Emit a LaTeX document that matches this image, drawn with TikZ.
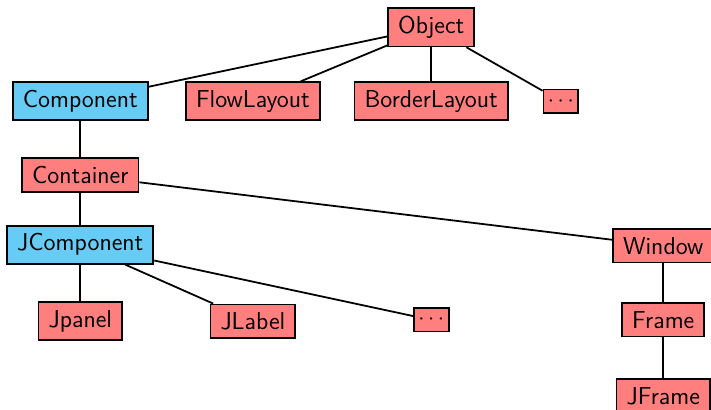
\documentclass[tikz,border=0pt]{standalone}
\usepackage{tikz}

\definecolor{LightRed}{RGB}{255,127,127}
\definecolor{LightBlue}{RGB}{102,204,245}

\tikzset{
  cls/.style={draw=black, thick, fill=LightRed, inner xsep=4.5pt, inner ysep=3.6pt,
              font=\fontsize{11}{13}\selectfont\sffamily},
  iface/.style={cls, fill=LightBlue},
  more/.style={draw=black, thick, fill=LightRed, inner xsep=2pt, inner ysep=3pt},
  link/.style={thick, black}
}

\begin{document}
\begin{tikzpicture}

\useasboundingbox (0,0) rectangle (11.245,-6.469);

% Classes
\node[cls]   (object)    at (6.82,-0.43) {Object};
\node[iface] (component) at (1.27,-1.60) {Component};
\node[cls]   (flow)      at (4.00,-1.60) {FlowLayout};
\node[cls]   (border)    at (6.82,-1.60) {BorderLayout};
\node[more]  (moreA)     at (8.87,-1.60) {$\cdots$};
\node[cls]   (container) at (1.27,-2.77) {Container};
\node[iface] (jcomp)     at (1.27,-3.87) {JComponent};
\node[cls]   (window)    at (10.49,-3.89) {Window};
\node[cls]   (jpanel)    at (1.27,-5.08) {Jpanel};
\node[cls]   (jlabel)    at (4.00,-5.08) {JLabel};
\node[more]  (moreB)     at (6.82,-5.06) {$\cdots$};
\node[cls]   (frame)     at (10.49,-5.06) {Frame};
\node[cls]   (jframe)    at (10.49,-6.26) {JFrame};

% Inheritance lines
\foreach \sub in {component,flow,border,moreA}
{
     \draw[link] (object) -- (\sub);
}
\draw[link] (component) -- (container);
\draw[link] (container) -- (jcomp);
\draw[link] (container) -- (window);
\foreach \sub in {jpanel,jlabel,moreB}
{
     \draw[link] (jcomp) -- (\sub);
}
\draw[link] (window) -- (frame);
\draw[link] (frame) -- (jframe);

\end{tikzpicture}
\end{document}
